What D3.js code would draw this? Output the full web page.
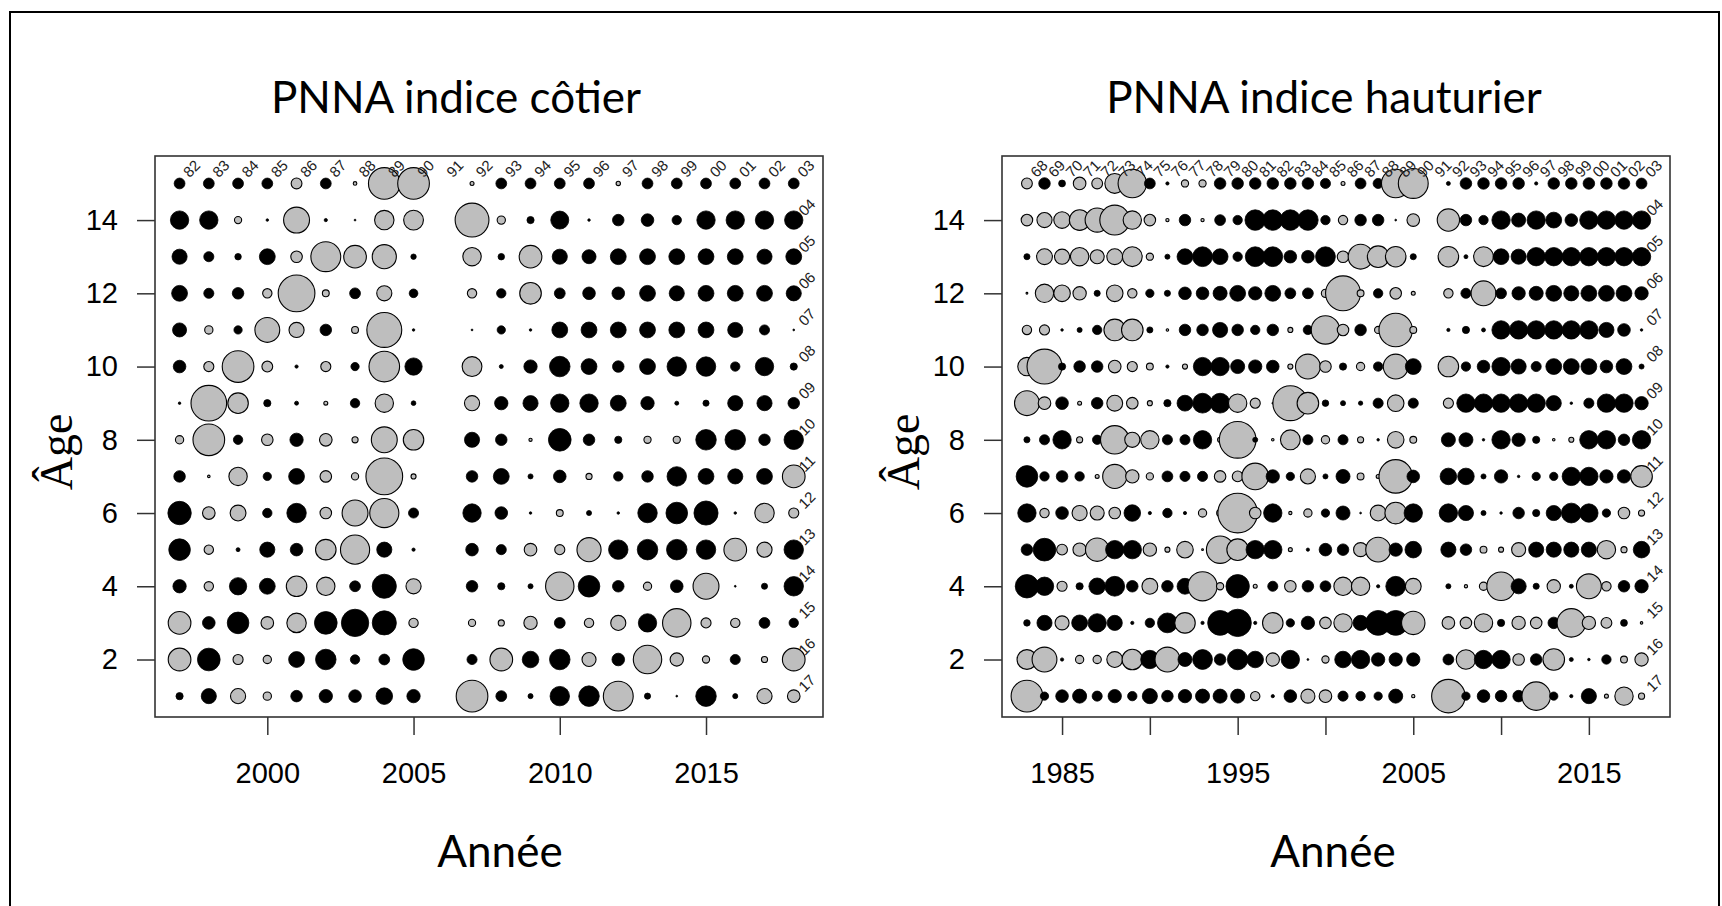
<!DOCTYPE html>
<html>
<head>
<meta charset="utf-8">
<script src="https://cdn.jsdelivr.net/npm/d3@7"></script>
<style>
body { margin: 0; background: #fff; }
svg { display: block; }
</style>
</head>
<body>
<svg id="fig" width="1722" height="906"></svg>
<script>
// années d'observation (pas de données en 2006)
var yearsCotier = [1997, 1998, 1999, 2000, 2001, 2002, 2003, 2004, 2005,
  2007, 2008, 2009, 2010, 2011, 2012, 2013, 2014, 2015, 2016, 2017, 2018];
var yearsHaut = [1983, 1984, 1985, 1986, 1987, 1988, 1989, 1990, 1991, 1992, 1993, 1994,
  1995, 1996, 1997, 1998, 1999, 2000, 2001, 2002, 2003, 2004, 2005,
  2007, 2008, 2009, 2010, 2011, 2012, 2013, 2014, 2015, 2016, 2017, 2018];
var ages = [15, 14, 13, 12, 11, 10, 9, 8, 7, 6, 5, 4, 3, 2, 1];

// étiquettes de cohorte (ligne du haut et colonne de droite)
var topYearsC = [1997, 1998, 1999, 2000, 2001, 2002, 2003, 2004, 2005, 2006, 2007,
  2008, 2009, 2010, 2011, 2012, 2013, 2014, 2015, 2016, 2017, 2018];
var cohortTopC = ["82", "83", "84", "85", "86", "87", "88", "89", "90", "91", "92",
  "93", "94", "95", "96", "97", "98", "99", "00", "01", "02", "03"];
var topYearsH = [1983, 1984, 1985, 1986, 1987, 1988, 1989, 1990, 1991, 1992, 1993, 1994,
  1995, 1996, 1997, 1998, 1999, 2000, 2001, 2002, 2003, 2004, 2005, 2006,
  2007, 2008, 2009, 2010, 2011, 2012, 2013, 2014, 2015, 2016, 2017, 2018];
var cohortTopH = ["68", "69", "70", "71", "72", "73", "74", "75", "76", "77", "78", "79",
  "80", "81", "82", "83", "84", "85", "86", "87", "88", "89", "90", "91",
  "92", "93", "94", "95", "96", "97", "98", "99", "00", "01", "02", "03"];
var sideAges = [14, 13, 12, 11, 10, 9, 8, 7, 6, 5, 4, 3, 2, 1];
var cohortSide = ["04", "05", "06", "07", "08", "09", "10", "11", "12", "13", "14", "15", "16", "17"];

// résidus indice côtier (une liste par âge, dans l'ordre de yearsCotier)
var cot15 = [3, 3, 3, 3, -3, 3, -1, -8.8, -8.8, -1.1, 3, 3, 3, 3, -1.2, 3, 3, 3, 3, 3, 3];
var cot14 = [5.1, 5.1, -2, 0.7, -7.2, 0.9, 0.5, -5.4, -5.5, -9.4, -2.3, 2, 5, 0.7, 3.2, 3.5, 2.6, 5.1, 5.1, 5.1, 5.1];
var cot13 = [4.2, 2.8, 1.8, 4.4, -3.2, -8.3, -6.3, -6.7, 1.5, -5.1, 1.8, -6.3, 4.2, 3.9, 4.4, 4.4, 4.4, 4.4, 4.4, 4.2, 4.4];
var cot12 = [4.4, 2.8, 3.2, -2.6, -10.2, -1.9, 3, -4.2, 2.4, -2.6, 2.6, -6, 3, 3.5, 3.5, 4.4, 4.2, 4.4, 4.4, 4.4, 4.2];
var cot11 = [3.9, -2.3, 2.3, -6.9, -4.2, 3.2, -1.9, -9.7, 0.7, 0.5, 2.3, 0.7, 4.4, 4.4, 4.4, 4.4, 4.4, 4.4, 4.2, 2.8, 0.5];
var cot10 = [3.5, -2.8, -8.8, -3, 0.9, -2.8, 2.3, -8.5, 4.8, -5.5, 1.1, 3.7, 5.7, 4.4, 3.2, 4.4, 5.4, 5.4, 2.6, 5.1, 2];
var cot9 = [0.7, -9.9, -5.7, 2, 1.1, -1.1, 2.6, -5.1, 1.3, -4.2, 3.7, 4.2, 5.1, 5.1, 4.4, 3.7, 1.1, 1.7, 4.2, 4.2, 3.2];
var cot8 = [-2.3, -8.8, 2.6, -3.2, 3.7, -3.5, -1.7, -7.2, -5.7, 4.2, 3.2, -0.9, 6.3, 3.2, 2, -2, -2, 5.7, 5.7, 3.2, 5.4];
var cot7 = [3.2, -0.7, -5.1, 2.3, 4.4, -3.2, -2, -10.2, -1.4, 3.2, 4.4, 1.4, 3.5, -1.7, 2.6, 3.2, 5.4, 4.4, 4.2, 4.4, -6.3];
var cot6 = [6.5, -3.5, -4.4, 2.6, 5.4, -3.2, -7.2, -8.1, 2.8, 5.1, 3.5, 0.7, -1.9, 1.4, 0.7, 5.4, 6, 6.7, 0.7, -5.4, -2.8];
var cot5 = [6, -2.6, 1.1, 4.2, 3.5, -5.7, -8.1, 4.2, 0.9, 3.5, 2.8, -3.5, -2.8, -6.7, 5.4, 5.7, 5.7, 5.4, -6.3, -4.2, 5.4];
var cot4 = [3.7, -2.6, 4.8, 4.4, -5.7, -5.1, 3, 6.7, -4.2, 3.2, 2, 1.4, -7.9, 6, 3.2, -2.3, 3.5, -7.2, 0.5, 1.7, 5.4];
var cot3 = [-6.3, 3.5, 6, -3.5, -5.4, 6.3, 7.6, 6.7, -2.6, -2, -1.7, -3.7, 3, -2.6, -4.2, 5.1, -7.9, -2.8, -2.6, 3, 2.6];
var cot2 = [-6.3, 6.3, -2.8, -2.3, 4.4, 5.7, 2.6, 3, 6, 2.8, -6.3, 4.6, 5.7, -3.9, 3.5, -7.9, -3.7, -2, 2.8, -1.7, -6.3];
var cot1 = [2, 4.2, -4.2, -2.3, 3.2, 3.7, 3.5, 4.6, 3.7, -8.8, 3, 1.4, 5.4, 5.7, -8.3, 1.7, 0.5, 5.7, 1.4, -4.2, -3.5];

// résidus indice hauturier (dans l'ordre de yearsHaut)
var hau15 = [-3, 3.2, 1.9, -3.5, -3, -5.5, -7.9, 3, 0.9, -2, -2, 3.2, 3.2, 3.2, 3.2, 3.2, 3.2, 2.8,
  -1.1, 3, 2.8, -7.9, -8.3, 1.1, 3.2, 3.2, 3.2, 3.2, 0.9, 3.2, 3.2, 3.2, 3.2, 3.2, 3];
var hau14 = [-3.2, -4.2, -4.6, -5.7, -6.7, -8.3, -5.1, -3.2, -0.9, 3.2, -0.9, 3, 2.6, 5.7, 5.7, 5.7, 5.7, 2.6,
  -2.6, 3.2, 3.2, 0.5, -3.5, -6.2, 3.2, 2.6, 5.1, 3.9, 5.1, 4.4, 3.5, 5.1, 5.1, 5.1, 5.1];
var hau13 = [1.7, -4.4, -4.2, -5.1, -3.9, -4.4, -5.5, -2, 1.4, 4.4, 5.5, 4.4, 2.6, 5.5, 5.5, 3.5, 3.5, 5.5,
  -3.2, -6.9, -6, -5.7, 1.7, -5.7, 1.1, -5.5, 4.4, 4.2, 5.1, 5.1, 5.1, 5.1, 5.1, 5.1, 5.1];
var hau12 = [-0.5, -5.1, -4.6, -3.7, 1.7, -4.6, -2.6, 2.3, 1.7, 3.5, 3.5, 3.9, 4.4, 3.7, 4.4, 3, 3, -2.3,
  -9.7, -1.9, 2.6, -3.2, -1.1, -2.6, 2.8, -6.9, 3, 3.7, 3.9, 4.4, 4.2, 4.4, 4.4, 4.4, 3.7];
var hau11 = [-2.6, -2.8, 0.7, 1.4, 2.6, -6, -6, 1.7, -0.7, 3.2, 3.2, 4.2, 3.2, 2.6, 3.2, -1.4, 2.6, -7.9,
  -3.2, 3.2, -2, -9.3, -1.9, 0.9, 2, 1.1, 5.1, 5.1, 5.1, 5.1, 5.1, 5.1, 4.2, 3.5, 0.7];
var hau10 = [-5.1, -9.7, 2, 3.2, 3.2, -3.5, -2.8, -1.9, 0.9, -1.4, 5.1, 5.1, 3.9, 3.7, 3.5, -1.4, -6.9, -3.2,
  2, -2.3, 2.6, -6.9, 4.4, -5.7, 2.6, 3.5, 5.1, 4.2, 2.8, 4.4, 4.4, 4.4, 3.5, 4.4, 1.4];
var hau9 = [-6.9, -3.5, 3.5, -1.1, 3.2, -4.4, -3.2, -1.4, 2, 4.4, 5.5, 5.5, -5.1, -2.8, 0.5, -9.7, -6, 1.8,
  1.4, 1.2, 2.8, -4.6, 2.8, -2.8, 5.1, 5.1, 5.1, 5.1, 5.1, 4.2, 0.7, 2.8, 5.1, 5.1, 3.7];
var hau8 = [1.7, 2.8, 5.1, -1.7, 2.6, -7.9, -4.2, -5.1, 2.8, 2.8, 5.1, -1.4, -10.2, 1.4, -0.7, -5.5, 2.8, -2.3,
  2.8, -1.7, 0.7, -4.6, -1.9, 3.9, 3.9, 0.7, 5.1, 3.7, 2, -0.7, -1.4, 5.1, 5.1, 3.2, 5.1];
var hau7 = [6, 2.6, 3.2, 2.6, -1.1, -6.7, -3.7, -2, 3, 2.8, 2.8, -3.2, -3, -7.4, 3.7, 2.3, -4.2, 1.4,
  3.9, -1.9, -1.1, -9.3, 3.5, 4.6, 4.6, 1.4, 3.7, 0.7, 2.3, 2.3, 5.1, 5.1, 3.7, 3.7, -6];
var hau6 = [5.1, -2.6, 3.5, -4.2, -3.9, -3.2, 4.6, 0.9, 2.6, 0.9, -2.3, -1.9, -11, -3.2, 5.1, -0.9, -2.3, 2.3,
  3.9, 0.5, -4.4, -6, 5.1, 5.1, 4.2, 1.4, 0.7, 3.2, 2, 4.2, 5.5, 5.1, 2.3, -3.2, -1.7];
var hau5 = [3.2, 6.3, -3, -3.7, -6.5, 5.1, 5.1, -3.7, -1.4, -4.6, -0.5, -7.6, -6, 5.1, 5.1, -1.1, 0.9, 3.5,
  3.2, -3.9, -6.9, 3.7, 4.6, 4.2, 3.2, -1.9, -1.4, -3.9, 4.2, 4.2, 4.2, 4.2, -5.1, -1.7, 4.6];
var hau4 = [6.5, 5.1, -2.8, 2, 4.6, 5.5, 3.2, -4.4, 3.2, 4.4, -8.1, -2, 6.5, -1.1, 2.8, -3.2, 3.2, 3,
  -5.1, -5.1, 0.9, 5.5, -4.4, 1.4, -0.9, -2.3, -7.9, 4.2, 1.7, -3.7, 1.1, -6.9, -2.6, 3.2, 3.7];
var hau3 = [1.8, 4.2, -3.9, 4.4, 5.1, 4.2, 0.9, 2.6, 5.5, -5.7, 0.9, 6.9, 7.6, 0.9, -5.7, 2.3, 3.7, -3.2,
  -5.1, 4.2, 6.9, 6.9, -6.5, -3.5, -3.2, -5.1, 2, -3.7, -3.2, 3.2, -7.9, -3.7, -3, 1.9, -0.7];
var hau2 = [-5.5, -6.9, 0.9, -2.3, -2.3, -4.4, -5.7, 5.1, -6.9, 3.9, 5.5, 3.2, 5.7, 4.6, -3.7, 5.1, 0.5, -2,
  4.6, 5.1, 3.7, 3.7, 3.7, 3, -5.4, 5.1, 5.1, -3.2, 3.2, -6, 1.1, 0.7, 2.6, -1.9, -3.7];
var hau1 = [-8.8, 2.3, 3.5, 3.9, 2.8, 3.7, 2.6, 4.2, 3.2, 3.7, 3.9, 3.9, 3.9, -2.6, 0.9, 3.5, -3.9, -3.5,
  2.8, 2.6, 2.3, 3.9, -0.9, -9.3, 2.3, 3.5, 3.2, 3.2, -7.9, 2.3, 0.9, 4.2, -1.1, -5.1, -1.7];

var cotierRows = [cot15, cot14, cot13, cot12, cot11, cot10, cot9, cot8, cot7, cot6, cot5, cot4, cot3, cot2, cot1];
var hautRows = [hau15, hau14, hau13, hau12, hau11, hau10, hau9, hau8, hau7, hau6, hau5, hau4, hau3, hau2, hau1];

var svg = d3.select("#fig");
var plotTop = 156, plotBottom = 717;
var r = d3.scaleLinear().domain([0, 10]).range([0, 18]);  // rayon ~ |résidu|

// cadre extérieur
svg.append("rect")
  .attr("x", 10).attr("y", 12).attr("width", 1709).attr("height", 1000)
  .attr("fill", "none").attr("stroke", "#000").attr("stroke-width", 2);

function panel(p) {
  var g = svg.append("g");
  var x = d3.scaleLinear().domain(p.domain).range([p.left, p.left + 668]);
  var y = d3.scaleLinear().domain([0.43, 15.75]).range([plotBottom, plotTop]);

  // table (âge, année, résidu)
  var cells = [];
  ages.forEach(function(a, i) {
    p.years.forEach(function(yr, j) {
      cells.push({ age: a, year: yr, v: p.rows[i][j] });
    });
  });

  g.selectAll("circle.bub")
    .data(cells)
    .enter().append("circle")
      .attr("class", "bub")
      .attr("cx", function(d) { return x(d.year); })
      .attr("cy", function(d) { return y(d.age); })
      .attr("r", function(d) { return r(Math.abs(d.v)); })
      .attr("fill", function(d) { return d.v > 0 ? "#000" : "#bebebe"; })
      .attr("stroke", "#000")
      .attr("stroke-width", function(d) { return d.v > 0 ? 0.8 : 1.1; });

  // étiquettes de cohorte
  var lab = g.append("g")
    .attr("font-family", "'Liberation Sans', Arial, sans-serif")
    .attr("font-size", 15).attr("fill", "#222")
    .attr("text-anchor", "middle").attr("dominant-baseline", "middle");
  p.topYears.forEach(function(yr, i) {
    var lx = x(yr) + 13, ly = y(15) - 14;
    lab.append("text")
      .attr("transform", "translate(" + lx + "," + ly + ") rotate(-45)")
      .text(p.topLabels[i]);
  });
  sideAges.forEach(function(a, i) {
    var lx = x(2018) + 14, ly = y(a) - 12;
    lab.append("text")
      .attr("transform", "translate(" + lx + "," + ly + ") rotate(-45)")
      .text(cohortSide[i]);
  });

  // axes
  var xAxis = d3.axisBottom(x).tickValues(p.xTicks).tickSize(18).tickPadding(27)
    .tickFormat(function(d) { return p.xLabels.indexOf(d) >= 0 ? d : ""; });
  var ax = g.append("g").attr("transform", "translate(0," + plotBottom + ")").call(xAxis);
  var yAxis = d3.axisLeft(y).tickValues([2, 4, 6, 8, 10, 12, 14]).tickSize(18).tickPadding(19);
  var ay = g.append("g").attr("transform", "translate(" + p.left + ",0)").call(yAxis);
  [ax, ay].forEach(function(a) {
    a.select(".domain").remove();
    a.selectAll("line").attr("stroke", "#333").attr("stroke-width", 1.5);
    a.selectAll("text").attr("font-family", "'Liberation Sans', Arial, sans-serif")
      .attr("font-size", 29).attr("fill", "#000");
  });

  // boîte
  g.append("rect")
    .attr("x", p.left).attr("y", plotTop).attr("width", 668).attr("height", plotBottom - plotTop)
    .attr("fill", "none").attr("stroke", "#333").attr("stroke-width", 1.6);

  // titres
  g.append("text")
    .attr("x", p.titleX).attr("y", 113).attr("text-anchor", "middle")
    .attr("font-family", "Lato, 'Open Sans', sans-serif").attr("font-size", 44)
    .text(p.title);
  g.append("text")
    .attr("x", p.xlabX).attr("y", 867).attr("text-anchor", "middle")
    .attr("font-family", "Lato, 'Open Sans', sans-serif").attr("font-size", 44)
    .text("Année");
  g.append("text")
    .attr("transform", "translate(" + (p.left - 83) + ",452) rotate(-90)")
    .attr("text-anchor", "middle")
    .attr("font-family", "'Liberation Serif', 'Times New Roman', serif").attr("font-size", 46)
    .text("Âge");
}

panel({
  left: 155, domain: [1996.16, 2019.0],
  years: yearsCotier, rows: cotierRows,
  topYears: topYearsC, topLabels: cohortTopC,
  xTicks: [2000, 2005, 2010, 2015], xLabels: [2000, 2005, 2010, 2015],
  title: "PNNA indice côtier", titleX: 456, xlabX: 500
});
panel({
  left: 1002, domain: [1981.58, 2019.62],
  years: yearsHaut, rows: hautRows,
  topYears: topYearsH, topLabels: cohortTopH,
  xTicks: [1985, 1990, 1995, 2000, 2005, 2010, 2015], xLabels: [1985, 1995, 2005, 2015],
  title: "PNNA indice hauturier", titleX: 1324, xlabX: 1333
});
</script>
</body>
</html>
